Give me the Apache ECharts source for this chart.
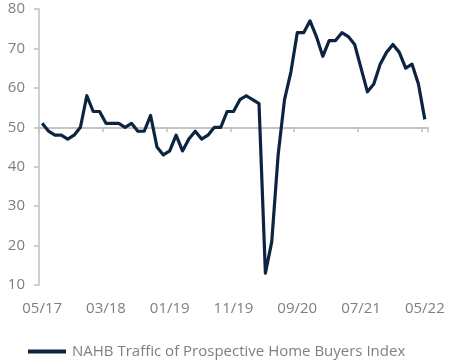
<!DOCTYPE html>
<html>
<head>
<meta charset="utf-8">
<script src="https://cdn.jsdelivr.net/npm/echarts@6/dist/echarts.min.js"></script>
<style>html,body{margin:0;padding:0;background:#fff}#c{width:450px;height:360px}</style>
</head>
<body>
<div id="c"></div>
<script>
var seriesName = 'NAHB Traffic of Prospective Home Buyers Index';
var months = [
 '05/17','06/17','07/17','08/17','09/17','10/17','11/17','12/17',
 '01/18','02/18','03/18','04/18','05/18','06/18','07/18','08/18','09/18','10/18','11/18','12/18',
 '01/19','02/19','03/19','04/19','05/19','06/19','07/19','08/19','09/19','10/19','11/19','12/19',
 '01/20','02/20','03/20','04/20','05/20','06/20','07/20','08/20','09/20','10/20','11/20','12/20',
 '01/21','02/21','03/21','04/21','05/21','06/21','07/21','08/21','09/21','10/21','11/21','12/21',
 '01/22','02/22','03/22','04/22','05/22'
];
var values = [
 51,49,48,48,47,48,50,58,
 54,54,51,51,51,50,51,49,49,53,45,43,
 44,48,44,47,49,47,48,50,50,54,54,57,
 58,57,56,13,21,43,57,64,74,74,77,73,
 68,72,72,74,73,71,65,59,61,66,69,71,
 69,65,66,61,52
];
var yTicks = [10,20,30,40,50,60,70,80];
var baseLine = 50;

var gridTop = 9, gridBottom = 75, chartH = 360, gridLeft = 39, gridRight = 22;
var yMin = yTicks[0], yMax = yTicks[yTicks.length-1];
var plotH = chartH - gridTop - gridBottom;
var upperH = (yMax - baseLine) / (yMax - yMin) * plotH;

var chart = echarts.init(document.getElementById('c'));
var gray = '#7f7f7f';
var axisGray = '#c0c0c0';
var navy = '#0c2442';
chart.setOption({
  animation: false,
  grid: [
    {left: gridLeft, right: gridRight, top: gridTop, bottom: gridBottom},
    {left: gridLeft, right: gridRight, top: gridTop, height: upperH}
  ],
  legend: {
    data: [seriesName],
    left: 23, top: 339,
    icon: 'rect', itemWidth: 38, itemHeight: 4, itemGap: 5,
    textStyle: {color: gray, fontSize: 15, fontFamily: 'Open Sans', padding: [0,0,0,1]}
  },
  xAxis: [{
    type: 'category', data: months, gridIndex: 0,
    axisLine: {show: false}, axisTick: {show: false},
    axisLabel: {interval: 9, color: gray, fontSize: 15, margin: 16, fontFamily: 'Open Sans'}
  }, {
    type: 'category', data: months, gridIndex: 1,
    axisLine: {show: true, lineStyle: {color: axisGray, width: 1.5}},
    axisTick: {show: true, interval: 9, length: 5, lineStyle: {color: axisGray, width: 1.5}},
    axisLabel: {show: false}
  }],
  yAxis: [{
    type: 'value', min: yMin, max: yMax, interval: 10, gridIndex: 0,
    axisLine: {show: true, lineStyle: {color: axisGray, width: 1.5}},
    axisTick: {show: true, length: 5, lineStyle: {color: axisGray, width: 1.5}},
    splitLine: {show: false},
    axisLabel: {color: gray, fontSize: 15, margin: 14, fontFamily: 'Open Sans'}
  }, {
    type: 'value', min: baseLine, max: yMax, gridIndex: 1,
    axisLine: {show: false}, axisTick: {show: false}, axisLabel: {show: false}, splitLine: {show: false}
  }],
  series: [{
    name: seriesName, type: 'line', data: values, xAxisIndex: 0, yAxisIndex: 0,
    symbol: 'none', smooth: false, z: 6,
    lineStyle: {color: navy, width: 3.2, join: 'round'},
    itemStyle: {color: navy},
    markLine: {
      silent: true, symbol: ['none', 'none'], label: {show: false}, z: 2,
      lineStyle: {color: axisGray, width: 1.5, type: 'solid'},
      emphasis: {disabled: true},
      data: [{yAxis: baseLine}]
    }
  }, {
    name: seriesName, type: 'line', data: [], xAxisIndex: 1, yAxisIndex: 1,
    symbol: 'none', silent: true,
    lineStyle: {color: navy}, itemStyle: {color: navy}
  }]
});
</script>
</body>
</html>
